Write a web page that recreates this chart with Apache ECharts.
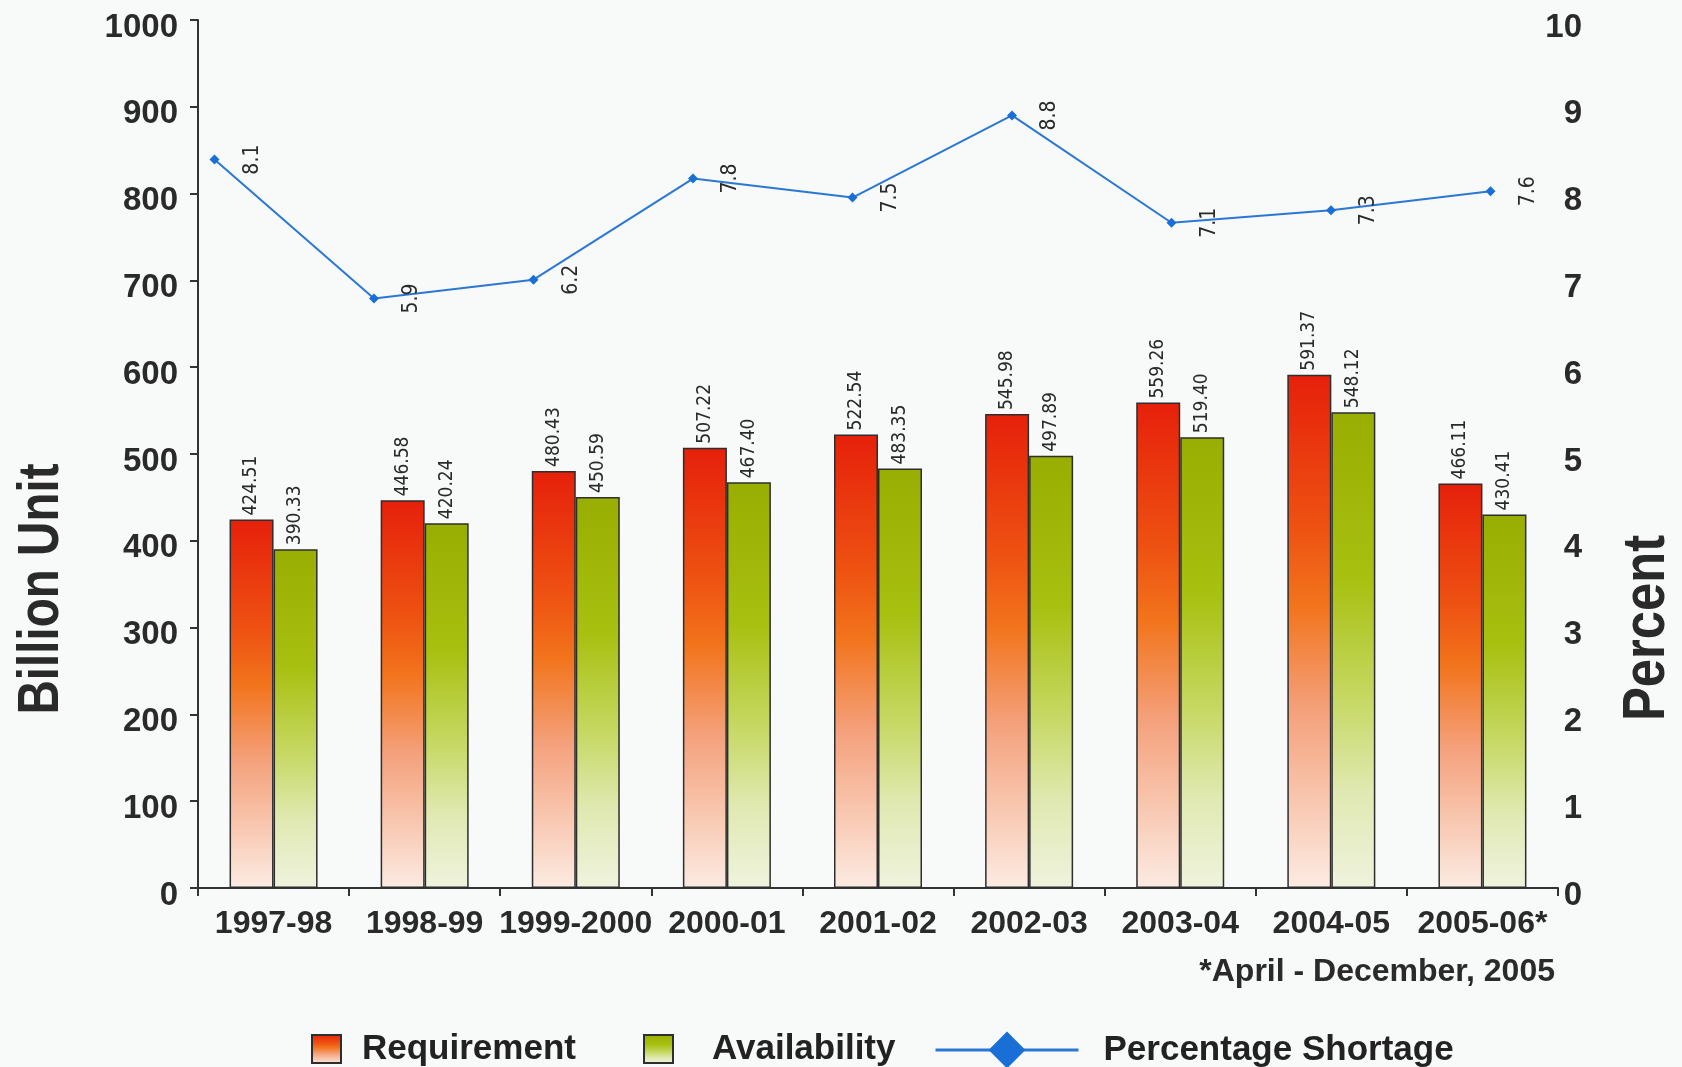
<!DOCTYPE html>
<html>
<head>
<meta charset="utf-8">
<script src="https://cdn.jsdelivr.net/npm/echarts@6/dist/echarts.min.js"></script>
<style>
html,body{margin:0;padding:0;background:#f8f9f9}
#chart{width:1682px;height:1067px}
</style>
</head>
<body>
<div id="chart"></div>
<script>
// data
var years = ['1997-98', '1998-99', '1999-2000', '2000-01', '2001-02', '2002-03', '2003-04', '2004-05', '2005-06*'];
var requirement = [424.51, 446.58, 480.43, 507.22, 522.54, 545.98, 559.26, 591.37, 466.11];
var availability = [390.33, 420.24, 450.59, 467.40, 483.35, 497.89, 519.40, 548.12, 430.41];
var shortage = [8.1, 5.9, 6.2, 7.8, 7.5, 8.8, 7.1, 7.3, 7.6];

var BOLD = "'Liberation Sans', Arial, sans-serif";
var NARROW = "'DejaVu Sans Condensed', 'Liberation Sans', sans-serif";

function grad(stops) {
  return new echarts.graphic.LinearGradient(0, 0, 0, 1, stops);
}
var redFill = grad([
  {offset: 0, color: '#e6200b'},
  {offset: 0.3, color: '#ee5212'},
  {offset: 0.45, color: '#f2741c'},
  {offset: 0.65, color: '#f4a07a'},
  {offset: 1, color: '#fcebe2'}
]);
var greenFill = grad([
  {offset: 0, color: '#98ae02'},
  {offset: 0.35, color: '#a8c010'},
  {offset: 0.6, color: '#c6d862'},
  {offset: 0.8, color: '#e0e9b2'},
  {offset: 1, color: '#eff3de'}
]);

var barLabel = {
  show: true,
  position: 'top',
  distance: 4,
  rotate: 90,
  align: 'left',
  verticalAlign: 'middle',
  fontFamily: NARROW,
  fontSize: 19,
  color: '#2a2a2a',
  formatter: function (p) { return p.value.toFixed(2); }
};

var legendText = {fontFamily: BOLD, fontWeight: 'bold', fontSize: 35, lineHeight: 40, color: '#222'};
// y tick labels sit a little below their ticks in the original
var tickRich = {t: {fontFamily: BOLD, fontWeight: 'bold', fontSize: 33, color: '#2a2a2a', padding: [15, 0, 0, 0]}};
function tickFmt(v) { return '{t|' + v + '}'; }

var chart = echarts.init(document.getElementById('chart'));
chart.setOption({
  backgroundColor: '#f8f9f9',
  animation: false,
  grid: [
    {left: 198, right: 124, top: 20, bottom: 179},
    // the shortage line sits on its own frame in the original
    {left: 214.5, right: 191.5, top: 20, bottom: 179}
  ],
  legend: [
    {
      data: [{name: 'Requirement', icon: 'rect'}], left: 306, top: 1024, itemWidth: 29, itemHeight: 28,
      textStyle: Object.assign({padding: [0, 0, 0, 16]}, legendText)
    },
    {
      data: [{name: 'Availability', icon: 'rect'}], left: 638, top: 1024, itemWidth: 29, itemHeight: 28,
      textStyle: Object.assign({padding: [0, 0, 0, 34]}, legendText)
    },
    {
      data: ['Percentage Shortage'], left: 929, top: 1025, itemWidth: 143, itemHeight: 46,
      lineStyle: {width: 3},
      textStyle: Object.assign({padding: [0, 0, 0, 20]}, legendText)
    }
  ],
  xAxis: [
    {
      type: 'category', gridIndex: 0, data: years,
      axisLine: {lineStyle: {color: '#333', width: 2}},
      axisTick: {show: true, length: 8, lineStyle: {color: '#333', width: 2}},
      axisLabel: {fontFamily: BOLD, fontWeight: 'bold', color: '#2a2a2a', fontSize: 32, margin: 20, interval: 0}
    },
    {
      type: 'category', gridIndex: 1, data: years, boundaryGap: false, show: false
    }
  ],
  yAxis: [
    {
      type: 'value', gridIndex: 0, min: 0, max: 1000, interval: 100,
      splitLine: {show: false},
      axisLine: {show: true, lineStyle: {color: '#333', width: 2}},
      axisTick: {show: true, length: 8, lineStyle: {color: '#333', width: 2}},
      axisLabel: {margin: 20, formatter: tickFmt, rich: tickRich}
    },
    {
      type: 'value', gridIndex: 0, position: 'right', min: 0, max: 10, interval: 1,
      splitLine: {show: false},
      axisLine: {show: false},
      axisTick: {show: false},
      axisLabel: {margin: 24, align: 'right', formatter: tickFmt, rich: tickRich}
    },
    {
      type: 'value', gridIndex: 1, min: -3.43, max: 10.31, show: false, splitLine: {show: false}
    }
  ],
  series: [
    {
      name: 'Requirement', type: 'bar', xAxisIndex: 0, yAxisIndex: 0,
      data: requirement, barWidth: 44, barGap: '0%',
      itemStyle: {color: redFill, borderColor: '#2e2e2e', borderWidth: 1.5},
      label: barLabel
    },
    {
      name: 'Availability', type: 'bar', xAxisIndex: 0, yAxisIndex: 0,
      data: availability, barWidth: 44, barGap: '0%',
      itemStyle: {color: greenFill, borderColor: '#2e2e2e', borderWidth: 1.5},
      label: barLabel
    },
    {
      name: 'Percentage Shortage', type: 'line', xAxisIndex: 1, yAxisIndex: 2,
      data: shortage, symbol: 'diamond', symbolSize: 10,
      lineStyle: {color: '#2a78d4', width: 2},
      itemStyle: {color: '#1a6fd6'},
      label: {
        show: true, position: 'right', distance: 31, offset: [0, 2],
        rotate: 90, align: 'center', verticalAlign: 'middle',
        fontFamily: NARROW, fontSize: 21, color: '#2a2a2a',
        formatter: function (p) { return p.value.toFixed(1); }
      }
    }
  ],
  graphic: [
    {
      type: 'text', x: 42, y: 589, rotation: Math.PI / 2, scaleX: 0.82,
      style: {text: 'Billion Unit', font: 'bold 58px ' + BOLD, fill: '#2a2a2a', align: 'center', verticalAlign: 'middle'}
    },
    {
      type: 'text', x: 1648, y: 628, rotation: Math.PI / 2, scaleX: 0.86,
      style: {text: 'Percent', font: 'bold 59px ' + BOLD, fill: '#2a2a2a', align: 'center', verticalAlign: 'middle'}
    },
    {
      type: 'text', right: 127, top: 956,
      style: {text: '*April - December, 2005', font: 'bold 32px ' + BOLD, fill: '#2a2a2a'}
    }
  ]
});
</script>
</body>
</html>
